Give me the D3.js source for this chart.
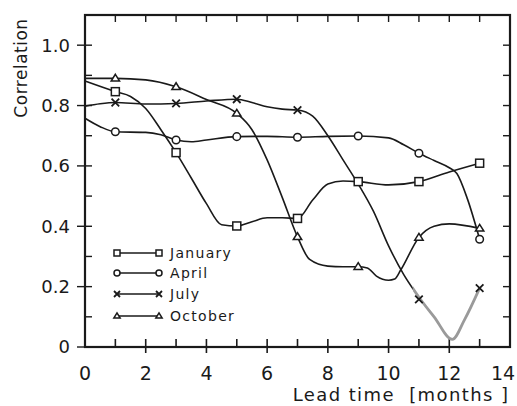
<!DOCTYPE html>
<html>
<head>
<meta charset="utf-8">
<script src="https://cdn.jsdelivr.net/npm/d3@7"></script>
<style>
  body { margin: 0; background: #fff; }
  svg { display: block; }
  text { font-family: "DejaVu Sans", sans-serif; fill: #1a1a1a; }
</style>
</head>
<body>
<svg id="chart" width="517" height="406"></svg>
<script>
// ---- data: correlation vs lead time (months) for four start months ----
// marker values (plotted symbols)
const januaryMarkMonths = [1, 3, 5, 7, 9, 11, 13];
const januaryMarks      = [0.846, 0.644, 0.401, 0.426, 0.548, 0.548, 0.609];
const aprilMarkMonths   = [1, 3, 5, 7, 9, 11, 13];
const aprilMarks        = [0.713, 0.686, 0.697, 0.695, 0.699, 0.642, 0.357];
const julyMarkMonths    = [1, 3, 5, 7, 11, 13];
const julyMarks         = [0.810, 0.807, 0.821, 0.785, 0.158, 0.195];
const octoberMarkMonths = [1, 3, 5, 7, 9, 11, 13];
const octoberMarks      = [0.890, 0.862, 0.774, 0.365, 0.266, 0.363, 0.393];

// smooth curves
const januaryLineMonths = [0, 1, 1.5, 2, 2.5, 3, 3.5, 4, 4.5, 5, 5.5, 6, 6.5, 7, 7.5, 8, 8.5, 9, 10, 11, 12, 13];
const januaryLine       = [0.881, 0.846, 0.83, 0.79, 0.72, 0.644, 0.56, 0.475, 0.405, 0.401, 0.415, 0.428, 0.428, 0.426, 0.487, 0.54, 0.55, 0.548, 0.537, 0.548, 0.58, 0.609];
const aprilLineMonths   = [0, 0.5, 1, 2, 2.5, 3, 3.5, 4, 5, 6, 7, 8, 9, 10, 10.5, 11, 11.5, 12, 12.25, 12.6, 13];
const aprilLine         = [0.758, 0.73, 0.713, 0.711, 0.703, 0.686, 0.68, 0.686, 0.697, 0.698, 0.695, 0.698, 0.699, 0.693, 0.67, 0.642, 0.618, 0.594, 0.575, 0.49, 0.357];
const julyLineMonths    = [0, 0.5, 1, 2, 3, 4, 5, 5.5, 6, 6.5, 7, 7.5, 8, 8.5, 9, 9.5, 10, 10.5, 11, 11.5, 12.1, 12.5, 13];
const julyLine          = [0.798, 0.806, 0.81, 0.805, 0.807, 0.815, 0.821, 0.81, 0.796, 0.788, 0.785, 0.765, 0.70, 0.62, 0.54, 0.45, 0.335, 0.24, 0.165, 0.10, 0.025, 0.09, 0.195];
const octoberLineMonths = [0, 1, 2, 3, 4, 5, 5.5, 6, 6.5, 7, 7.4, 8, 8.5, 9, 9.3, 9.6, 10, 10.2, 10.4, 11, 11.5, 12, 13];
const octoberLine       = [0.89, 0.89, 0.885, 0.862, 0.82, 0.774, 0.72, 0.62, 0.495, 0.365, 0.29, 0.268, 0.266, 0.266, 0.262, 0.235, 0.221, 0.225, 0.255, 0.363, 0.40, 0.408, 0.393];

const seriesNames = ["January", "April", "July", "October"];
const julyFadeFrom = 10.8;   // July line is printed faintly beyond this lead time

const xTickValues = [0, 2, 4, 6, 8, 10, 12, 14];
const yTickValues = [0, 0.2, 0.4, 0.6, 0.8, 1.0];
const yTickLabels = ["0", "0.2", "0.4", "0.6", "0.8", "1.0"];

// ---- layout ----
const svg = d3.select("#chart");
const x = d3.scaleLinear().domain([0, 14]).range([85, 510]);
const y = d3.scaleLinear().domain([0, 1.1]).range([347, 15]);
const ink = "#1a1a1a";

const series = [
  { name: seriesNames[0], symbol: "square",   lm: januaryLineMonths, lv: januaryLine, mm: januaryMarkMonths, mv: januaryMarks },
  { name: seriesNames[1], symbol: "circle",   lm: aprilLineMonths,   lv: aprilLine,   mm: aprilMarkMonths,   mv: aprilMarks },
  { name: seriesNames[2], symbol: "cross",    lm: julyLineMonths,    lv: julyLine,    mm: julyMarkMonths,    mv: julyMarks },
  { name: seriesNames[3], symbol: "triangle", lm: octoberLineMonths, lv: octoberLine, mm: octoberMarkMonths, mv: octoberMarks }
];

// ---- frame and ticks ----
const g = svg.append("g");
const x0 = x(0), x1 = x(14), yb = y(0), yt = y(1.1);

const minorX = d3.range(1, 14);
const minorY = d3.range(1, 11).map(d => d / 10);

// bottom: inward at every month, outward too at labelled months
g.selectAll(".tb").data(minorX).join("line")
  .attr("x1", d => x(d)).attr("x2", d => x(d))
  .attr("y1", yb).attr("y2", d => yb - 8).attr("stroke", ink).attr("stroke-width", 1.6);
g.selectAll(".tbo").data(xTickValues.filter(d => d > 0 && d < 14)).join("line")
  .attr("x1", d => x(d)).attr("x2", d => x(d))
  .attr("y1", yb).attr("y2", yb + 6).attr("stroke", ink).attr("stroke-width", 1.6);
// top: inward
g.selectAll(".tt").data(minorX).join("line")
  .attr("x1", d => x(d)).attr("x2", d => x(d))
  .attr("y1", yt).attr("y2", yt + 7).attr("stroke", ink).attr("stroke-width", 1.4);
// left: inward every 0.1, outward at labelled values
g.selectAll(".tl").data(minorY).join("line")
  .attr("x1", x0).attr("x2", x0 + 7)
  .attr("y1", d => y(d)).attr("y2", d => y(d)).attr("stroke", ink).attr("stroke-width", 1.4);
g.selectAll(".tlo").data(yTickValues).join("line")
  .attr("x1", x0 - 8).attr("x2", x0)
  .attr("y1", d => y(d)).attr("y2", d => y(d)).attr("stroke", ink).attr("stroke-width", 1.4);
// right: inward
g.selectAll(".tr").data(minorY).join("line")
  .attr("x1", x1 - 7).attr("x2", x1)
  .attr("y1", d => y(d)).attr("y2", d => y(d)).attr("stroke", ink).attr("stroke-width", 1.4);

g.append("rect")
  .attr("x", x0).attr("y", yt).attr("width", x1 - x0).attr("height", yb - yt)
  .attr("fill", "none").attr("stroke", ink).attr("stroke-width", 2.2);

// tick labels (the last one is kept inside the page edge)
g.selectAll(".xl").data(xTickValues).join("text")
  .attr("x", d => Math.min(x(d), 503)).attr("y", 380)
  .attr("text-anchor", "middle").attr("font-size", 19)
  .text(d => d);
g.selectAll(".yl").data(yTickValues).join("text")
  .attr("x", 70).attr("y", d => y(d)).attr("dy", "0.36em")
  .attr("text-anchor", "end").attr("font-size", 18)
  .text((d, i) => yTickLabels[i]);

// axis titles
svg.append("text")
  .attr("transform", "translate(27,68) rotate(-90)")
  .attr("text-anchor", "middle").attr("font-size", 17).attr("letter-spacing", 0.5)
  .text("Correlation");
svg.append("text")
  .attr("x", 401).attr("y", 401)
  .attr("text-anchor", "middle").attr("font-size", 18).attr("letter-spacing", 1.4)
  .style("white-space", "pre")
  .text("Lead time  [months ]");

// ---- curves ----
const line = d3.line().x(d => x(d[0])).y(d => y(d[1])).curve(d3.curveMonotoneX);
const defs = svg.append("defs");
defs.append("clipPath").attr("id", "solidPart")
  .append("rect").attr("x", 0).attr("y", 0).attr("width", x(julyFadeFrom)).attr("height", 406);
defs.append("clipPath").attr("id", "fadedPart")
  .append("rect").attr("x", x(julyFadeFrom)).attr("y", 0).attr("width", 517 - x(julyFadeFrom)).attr("height", 406);

const lines = svg.append("g").attr("fill", "none");
series.forEach(s => {
  const pts = s.lm.map((m, i) => [m, s.lv[i]]);
  if (s.name === "July") {
    lines.append("path").attr("d", line(pts)).attr("stroke", ink).attr("stroke-width", 1.6)
      .attr("clip-path", "url(#solidPart)");
    lines.append("path").attr("d", line(pts)).attr("stroke", "#9a9a9a").attr("stroke-width", 2.8)
      .attr("clip-path", "url(#fadedPart)");
  } else {
    lines.append("path").attr("d", line(pts)).attr("stroke", ink).attr("stroke-width", 1.6);
  }
});

// ---- markers ----
function drawSymbol(sel, type, cx, cy, r) {
  const common = sel => sel.attr("stroke", ink).attr("stroke-width", 1.5).attr("fill", "#fff");
  if (type === "square") {
    common(sel.append("rect").attr("x", cx - r).attr("y", cy - r).attr("width", 2 * r).attr("height", 2 * r));
  } else if (type === "circle") {
    common(sel.append("circle").attr("cx", cx).attr("cy", cy).attr("r", r));
  } else if (type === "triangle") {
    const h = r * 1.7;
    common(sel.append("path").attr("d",
      `M${cx},${cy - h * 0.6} L${cx + r * 1.05},${cy + h * 0.4} L${cx - r * 1.05},${cy + h * 0.4} Z`));
  } else if (type === "cross") {
    sel.append("path").attr("d",
      `M${cx - r},${cy - r} L${cx + r},${cy + r} M${cx - r},${cy + r} L${cx + r},${cy - r}`)
      .attr("stroke", ink).attr("stroke-width", 1.8).attr("fill", "none");
  }
}

const marks = svg.append("g");
series.forEach(s => {
  s.mm.forEach((m, i) => {
    const r = s.symbol === "circle" ? 3.8 : (s.symbol === "cross" ? 3.8 : 4);
    drawSymbol(marks, s.symbol, x(m), y(s.mv[i]), r);
  });
});

// ---- legend ----
const legend = svg.append("g");
const legendRows = [253, 273, 294, 316];
series.forEach((s, i) => {
  const ly = legendRows[i];
  legend.append("line").attr("x1", 117).attr("x2", 159).attr("y1", ly).attr("y2", ly)
    .attr("stroke", ink).attr("stroke-width", 1.5);
  drawSymbol(legend, s.symbol, 117, ly, 3);
  drawSymbol(legend, s.symbol, 159, ly, 3);
  legend.append("text").attr("x", 170).attr("y", ly).attr("dy", "0.36em")
    .attr("font-size", 14).attr("letter-spacing", 1.3)
    .text(s.name);
});
</script>
</body>
</html>
